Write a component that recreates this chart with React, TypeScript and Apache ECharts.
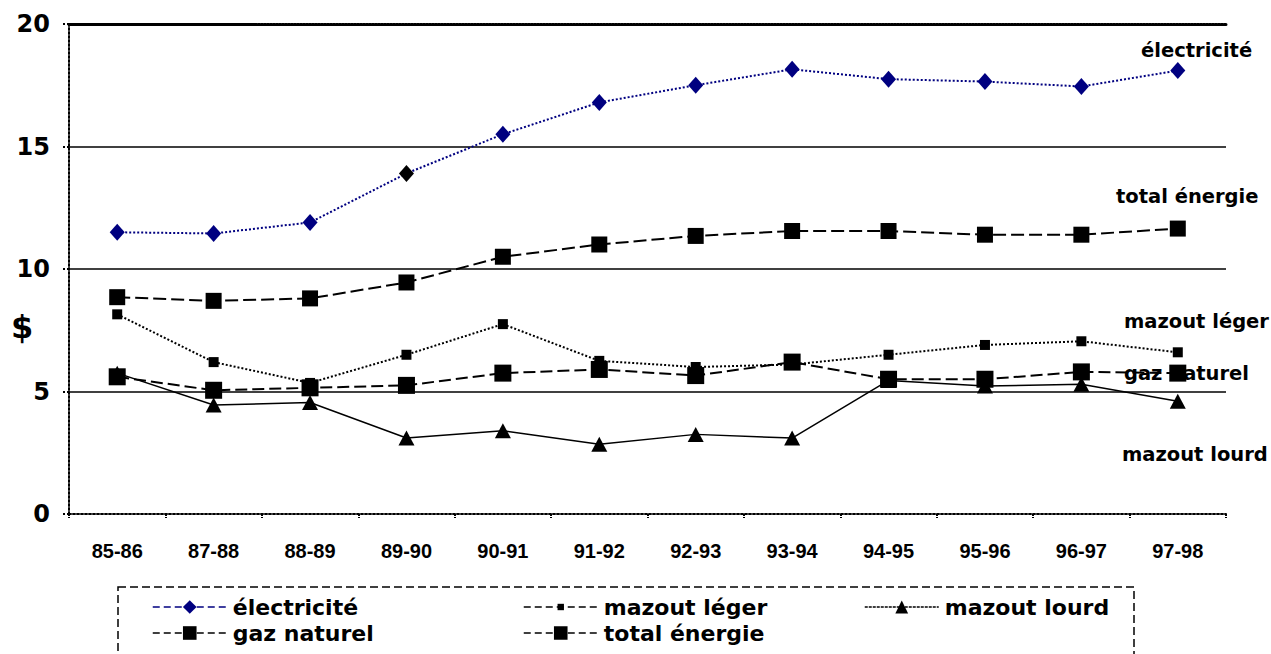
import React, { useEffect, useRef } from "react";
import * as echarts from "echarts";

// Prix moyen de l'énergie ($) par exercice
const periods = ["85-86", "87-88", "88-89", "89-90", "90-91", "91-92", "92-93", "93-94", "94-95", "95-96", "96-97", "97-98"];
const electricite = [11.5, 11.45, 11.9, 13.9, 15.5, 16.8, 17.5, 18.15, 17.75, 17.65, 17.45, 18.1];
const mazoutLeger = [8.15, 6.2, 5.35, 6.5, 7.75, 6.25, 6.0, 6.1, 6.5, 6.9, 7.05, 6.6];
const mazoutLourd = [5.75, 4.45, 4.55, 3.1, 3.4, 2.85, 3.25, 3.1, 5.45, 5.22, 5.3, 4.6];
const gazNaturel = [5.6, 5.05, 5.15, 5.25, 5.75, 5.9, 5.65, 6.2, 5.5, 5.5, 5.8, 5.75];
const totalEnergie = [8.85, 8.7, 8.8, 9.45, 10.5, 11.0, 11.35, 11.55, 11.55, 11.4, 11.4, 11.65];
const yTicks = [0, 5, 10, 15, 20];

const seriesNames = ["électricité", "mazout léger", "mazout lourd", "gaz naturel", "total énergie"];

const BOLD = "DejaVu Sans";
const ARIAL = "Liberation Sans";

export default function App() {
  const ref = useRef<HTMLDivElement>(null);

  useEffect(() => {
    if (!ref.current) return;
    const chart = echarts.init(ref.current, null, { renderer: "svg" });

    const sideLabel = (text: string, x: number, y: number) => ({
      type: "text",
      x,
      y,
      silent: true,
      style: {
        text,
        fill: "#000",
        font: `bold 19.5px "${BOLD}"`,
        verticalAlign: "middle",
        align: "left",
      },
      z: 50,
    });

    const legendBase = (name: string, left: number, top: number, itemHeight: number, lineStyle: any) => ({
      data: [name],
      left,
      top,
      padding: 0,
      itemWidth: 74,
      itemHeight,
      selectedMode: false,
      orient: "horizontal",
      textStyle: {
        fontFamily: BOLD,
        fontWeight: "bold",
        fontSize: 22,
        lineHeight: 22,
        color: "#000",
        padding: [0, 0, 0, 1],
      },
      lineStyle,
    });

    const dashedIcon = { type: [7, 4], width: 1.5 };

    const option: any = {
      animation: false,
      grid: { left: 69, right: 45, top: 24, bottom: 140, containLabel: false },
      xAxis: [
        {
          type: "category",
          data: periods,
          boundaryGap: true,
          axisLine: { show: true, lineStyle: { color: "#000", width: 2, type: [2, 2] } },
          axisTick: { show: true, length: 4, interval: 0, lineStyle: { color: "#000", width: 2, type: [2, 1] } },
          axisLabel: {
            interval: 0,
            margin: 27,
            fontFamily: ARIAL,
            fontWeight: "bold",
            fontSize: 20,
            color: "#000",
          },
          splitLine: { show: false },
        },
        {
          type: "category",
          data: periods,
          position: "top",
          axisLine: { show: true, lineStyle: { color: "#000", width: 3, type: [2, 1] } },
          axisTick: { show: false },
          axisLabel: { show: false },
          splitLine: { show: false },
        },
      ],
      yAxis: {
        type: "value",
        min: yTicks[0],
        max: yTicks[yTicks.length - 1],
        interval: yTicks[1] - yTicks[0],
        axisLine: { show: true, lineStyle: { color: "#000", width: 2, type: [2, 2] } },
        axisTick: { show: true, length: 7, inside: false, lineStyle: { color: "#000", width: 2, type: [2, 2] } },
        axisLabel: {
          margin: 19,
          fontFamily: BOLD,
          fontWeight: "bold",
          fontSize: 24,
          color: "#000",
        },
        splitLine: {
          show: true,
          showMinLine: false,
          showMaxLine: false,
          lineStyle: { color: "#000", width: 1.5, type: "solid" },
        },
      },
      legend: [
        legendBase(seriesNames[0], 152, 596, 17, dashedIcon),
        legendBase(seriesNames[1], 523, 596, 8, dashedIcon),
        legendBase(seriesNames[2], 864, 596, 16, { type: [3, 1], width: 1.5 }),
        legendBase(seriesNames[3], 152, 622, 17, dashedIcon),
        legendBase(seriesNames[4], 523, 622, 17, dashedIcon),
      ],
      series: [
        {
          type: "line",
          name: seriesNames[0],
          data: electricite.map((v, i) => (i === 3 ? { value: v, itemStyle: { color: "#000" } } : v)),
          symbol: "diamond",
          symbolSize: [15, 17],
          color: "#000080",
          itemStyle: { color: "#000080" },
          lineStyle: { color: "#000080", width: 2, type: [2, 2] },
          silent: true,
          z: 2,
        },
        {
          type: "line",
          name: seriesNames[1],
          data: mazoutLeger,
          symbol: "rect",
          symbolSize: 10,
          color: "#000",
          itemStyle: { color: "#000" },
          lineStyle: { color: "#000", width: 2, type: [2, 2] },
          silent: true,
          z: 3,
        },
        {
          type: "line",
          name: seriesNames[2],
          data: mazoutLourd,
          symbol: "triangle",
          symbolSize: [16, 15],
          color: "#000",
          itemStyle: { color: "#000" },
          lineStyle: { color: "#000", width: 1.5, type: "solid" },
          silent: true,
          z: 4,
        },
        {
          type: "line",
          name: seriesNames[3],
          data: gazNaturel,
          symbol: "rect",
          symbolSize: 17,
          color: "#000",
          itemStyle: { color: "#000" },
          lineStyle: { color: "#000", width: 2, type: [12, 5] },
          silent: true,
          z: 5,
        },
        {
          type: "line",
          name: seriesNames[4],
          data: totalEnergie,
          symbol: "rect",
          symbolSize: 16,
          color: "#000",
          itemStyle: { color: "#000" },
          lineStyle: { color: "#000", width: 2, type: [13, 5] },
          silent: true,
          z: 6,
        },
      ],
      graphic: [
        {
          type: "text",
          x: 11,
          y: 327,
          silent: true,
          style: {
            text: "$",
            fill: "#000",
            font: `bold 32px "${BOLD}"`,
            verticalAlign: "middle",
            align: "left",
          },
        },
        sideLabel("électricité", 1141, 50),
        sideLabel("total énergie", 1116, 196),
        sideLabel("mazout léger", 1124, 321),
        sideLabel("gaz naturel", 1124, 373),
        sideLabel("mazout lourd", 1122, 454),
        {
          type: "rect",
          silent: true,
          shape: { x: 118, y: 587, width: 1016, height: 120 },
          style: { fill: "none", stroke: "#000", lineWidth: 1.5, lineDash: [8, 4] },
          z: 0,
        },
      ],
    };

    chart.setOption(option);
    return () => chart.dispose();
  }, []);

  return (
    <div
      ref={ref}
      style={{ position: "fixed", left: 0, top: 0, width: 1271, height: 654, background: "#fff" }}
    />
  );
}
